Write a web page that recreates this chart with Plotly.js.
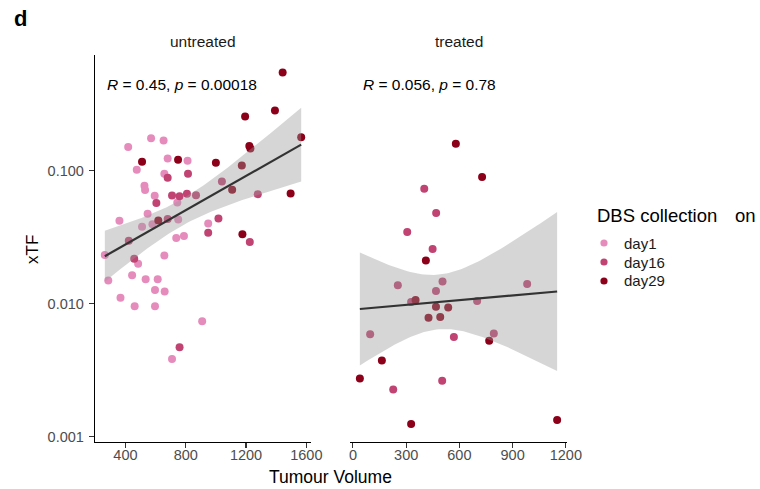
<!DOCTYPE html>
<html><head><meta charset="utf-8">
<script src="https://cdn.plot.ly/plotly-3.0.1.min.js"></script>
<style>body{margin:0;background:#fff}#chart{width:760px;height:489px}</style>
</head><body><div id="chart"></div>
<script>
// ---------- data ----------
const days = ['day1', 'day16', 'day29'];
const dayColors = ['#E68CBD', '#C04372', '#8C0019'];

const untreatedVolume = [1443,1392,1194,1566,1222,1229,570,653,418,510,680,749,812,1000,475,658,680,815,1172,526,530,1040,1108,1496,1278,594,709,759,808,868,605,744,547,618,680,750,360,510,579,949,1017,949,1176,1225,737,788,422,263,658,458,484,286,444,534,614,596,660,367,461,596,909,759,709];
const untreatedXTF = [0.548,0.284,0.256,0.179,0.154,0.147,0.176,0.169,0.151,0.117,0.124,0.121,0.119,0.115,0.102,0.095,0.0886,0.095,0.1096,0.0771,0.0716,0.0831,0.072,0.0675,0.0668,0.0649,0.0652,0.0645,0.0671,0.0656,0.0572,0.0578,0.0475,0.0423,0.0435,0.0431,0.0421,0.0379,0.0397,0.0402,0.0438,0.0343,0.0334,0.0292,0.0312,0.0323,0.0298,0.0233,0.0231,0.0218,0.0200,0.0150,0.0164,0.0153,0.0153,0.0127,0.0124,0.0111,0.0096,0.0096,0.0074,0.00472,0.00385];
const untreatedDay = ['day29','day29','day29','day29','day29','day29','day1','day1','day1','day29','day1','day29','day1','day29','day1','day1','day16','day16','day29','day1','day1','day16','day29','day29','day16','day1','day16','day16','day16','day16','day16','day1','day1','day29','day16','day1','day1','day1','day1','day1','day16','day16','day29','day16','day1','day1','day16','day1','day1','day16','day1','day1','day1','day1','day1','day1','day1','day1','day1','day1','day1','day16','day1'];

const treatedVolume = [580,728,402,469,306,449,411,253,505,468,982,328,353,700,468,537,426,492,97,794,569,768,163,39,503,227,328,1151];
const treatedXTF = [0.1596,0.0897,0.0733,0.0481,0.0347,0.0258,0.0212,0.0138,0.0147,0.0125,0.0141,0.0103,0.0107,0.0105,0.0095,0.0094,0.00785,0.00795,0.00591,0.00598,0.00562,0.00527,0.00375,0.00274,0.00264,0.00227,0.00125,0.00134];
const treatedDay = ['day29','day29','day16','day16','day16','day16','day29','day16','day16','day16','day16','day16','day29','day16','day29','day29','day29','day29','day16','day16','day16','day29','day29','day29','day16','day16','day29','day29'];

const panelNames = ['untreated', 'treated'];
const statLabels = ['<i>R</i> = 0.45, <i>p</i> = 0.00018', '<i>R</i> = 0.056, <i>p</i> = 0.78'];
const yTickVals = [0.001, 0.01, 0.1];
const yTickText = ['0.001', '0.010', '0.100'];
const untreatedXTicks = [400, 800, 1200, 1600];
const treatedXTicks = [0, 300, 600, 900, 1200];

// ---------- helpers ----------
const FONT = '"Liberation Sans", Arial, Helvetica, sans-serif';
function tQuant(df) {
  const z = 1.959964;
  const g1 = (z**3 + z) / 4;
  const g2 = (5*z**5 + 16*z**3 + 3*z) / 96;
  const g3 = (3*z**7 + 19*z**5 + 17*z**3 - 15*z) / 384;
  return z + g1/df + g2/df**2 + g3/df**3;
}
function lmFit(xs, ys) {
  const ly = ys.map(Math.log10);
  const n = xs.length;
  const mx = xs.reduce((a,b)=>a+b,0)/n, my = ly.reduce((a,b)=>a+b,0)/n;
  let sxx=0, sxy=0;
  for (let i=0;i<n;i++){ sxx+=(xs[i]-mx)**2; sxy+=(xs[i]-mx)*(ly[i]-my); }
  const b = sxy/sxx, a = my - b*mx;
  let sse=0; for (let i=0;i<n;i++){ sse+=(ly[i]-a-b*xs[i])**2; }
  const s = Math.sqrt(sse/(n-2)), t = tQuant(n-2);
  const xmin = Math.min(...xs), xmax = Math.max(...xs);
  const gx=[], gy=[], lo=[], hi=[];
  const N = 80;
  for (let k=0;k<=N;k++){
    const x = xmin + (xmax-xmin)*k/N;
    const f = a + b*x;
    const se = s*Math.sqrt(1/n + (x-mx)**2/sxx);
    gx.push(x); gy.push(10**f); lo.push(10**(f - t*se)); hi.push(10**(f + t*se));
  }
  return {gx, gy, lo, hi};
}
function expandRange(v) {
  const mn = Math.min(...v), mx = Math.max(...v), d = (mx-mn)*0.05;
  return [mn-d, mx+d];
}

// ---------- traces ----------
const panels = [
  {vol: untreatedVolume, xtf: untreatedXTF, day: untreatedDay, xa: 'x'},
  {vol: treatedVolume, xtf: treatedXTF, day: treatedDay, xa: 'x2'}
];
const traces = [];
panels.forEach(p => {
  days.forEach((d, di) => {
    const xs=[], ys=[];
    p.day.forEach((dd,i)=>{ if (dd===d){ xs.push(p.vol[i]); ys.push(p.xtf[i]); } });
    traces.push({
      type:'scatter', mode:'markers', x: xs, y: ys, xaxis: p.xa, yaxis: 'y',
      name: d, showlegend: false,
      marker: {color: dayColors[di], size: 8, line: {width: 0}},
      hoverinfo: 'x+y'
    });
  });
});
panels.forEach(p => {
  const f = lmFit(p.vol, p.xtf);
  traces.push({
    type:'scatter', mode:'lines', xaxis: p.xa, yaxis:'y', showlegend:false,
    x: f.gx.concat(f.gx.slice().reverse()), y: f.hi.concat(f.lo.slice().reverse()),
    fill:'toself', fillcolor:'rgba(153,153,153,0.4)', line:{width:0}, hoverinfo:'skip'
  });
  traces.push({
    type:'scatter', mode:'lines', xaxis: p.xa, yaxis:'y', showlegend:false,
    x: f.gx, y: f.gy, line:{color:'#333333', width:2.2}, hoverinfo:'skip'
  });
});

// ---------- layout ----------
const W = 760, H = 489;
const allY = untreatedXTF.concat(treatedXTF).map(Math.log10);
const yr = expandRange(allY);
const axisCommon = {
  showline: true, linecolor: '#000', linewidth: 1.2, ticks: 'outside', ticklen: 5,
  tickcolor: '#333', tickwidth: 1.1, showgrid: false, zeroline: false,
  tickfont: {family: FONT, size: 14.5, color: '#4D4D4D'}, fixedrange: true
};

// legend drawn as shapes + annotations
const legendShapes = [], legendAnn = [];
days.forEach((d, i) => {
  const cy = 243 + i*19, cx = 604, r = 3.6;
  legendShapes.push({type:'circle', xref:'paper', yref:'paper',
    x0:(cx-r)/W, x1:(cx+r)/W, y0:(H-cy-r)/H, y1:(H-cy+r)/H,
    fillcolor: dayColors[i], line:{width:0}});
  legendAnn.push({text: d, x: 622/W, y: (H-cy)/H, xref:'paper', yref:'paper', xanchor:'left', yanchor:'middle',
    showarrow:false, font:{family: FONT, size: 15, color:'#1A1A1A'}});
});

const layout = {
  width: W, height: H, margin: {l:0, r:0, t:0, b:0},
  paper_bgcolor: '#fff', plot_bgcolor: 'rgba(0,0,0,0)',
  showlegend: false,
  xaxis: Object.assign({}, axisCommon, {
    domain: [95/W, 311/W], range: expandRange(untreatedVolume), anchor: 'y',
    tickvals: untreatedXTicks, ticktext: untreatedXTicks.map(String), ticklabelstandoff: -5
  }),
  xaxis2: Object.assign({}, axisCommon, {
    domain: [350/W, 567/W], range: expandRange(treatedVolume), anchor: 'y',
    tickvals: treatedXTicks, ticktext: treatedXTicks.map(String), ticklabelstandoff: -5
  }),
  yaxis: Object.assign({}, axisCommon, {
    type: 'log', domain: [(H-441.5)/H, (H-55)/H], range: yr, anchor: 'x',
    tickvals: yTickVals, ticktext: yTickText, ticklabelstandoff: 2
  }),
  shapes: legendShapes,
  annotations: [
    {text: '<b>d</b>', x: 12/W, y: (H-19)/H, xref:'paper', yref:'paper', xanchor:'left', yanchor:'middle', showarrow:false, font:{family: FONT, size: 22, color:'#000'}},
    {text: panelNames[0], x: 0.5, y: (H-42)/H, xref:'x domain', yref:'paper', xanchor:'center', yanchor:'middle', showarrow:false, font:{family: FONT, size: 15.5, color:'#1A1A1A'}},
    {text: panelNames[1], x: 0.5, y: (H-42)/H, xref:'x2 domain', yref:'paper', xanchor:'center', yanchor:'middle', showarrow:false, font:{family: FONT, size: 15.5, color:'#1A1A1A'}},
    {text: statLabels[0], x: 105/W, y: (H-85)/H, xref:'paper', yref:'paper', xanchor:'left', yanchor:'middle', showarrow:false, font:{family: FONT, size: 15.5, color:'#000'}},
    {text: statLabels[1], x: 360.5/W, y: (H-85)/H, xref:'paper', yref:'paper', xanchor:'left', yanchor:'middle', showarrow:false, font:{family: FONT, size: 15.5, color:'#000'}},
    {text: 'xTF', x: 32/W, y: (H-250)/H, xref:'paper', yref:'paper', xanchor:'center', yanchor:'middle', textangle:-90, showarrow:false, font:{family: FONT, size: 17, color:'#000'}},
    {text: 'Tumour Volume', x: 330/W, y: (H-477)/H, xref:'paper', yref:'paper', xanchor:'center', yanchor:'middle', showarrow:false, font:{family: FONT, size: 17.5, color:'#000'}},
    {text: 'DBS collection', x: 595/W, y: (H-215)/H, xref:'paper', yref:'paper', xanchor:'left', yanchor:'middle', showarrow:false, font:{family: FONT, size: 18.5, color:'#000'}},
    {text: 'on', x: 733/W, y: (H-215)/H, xref:'paper', yref:'paper', xanchor:'left', yanchor:'middle', showarrow:false, font:{family: FONT, size: 18.5, color:'#000'}}
  ].concat(legendAnn)
};
Plotly.newPlot('chart', traces, layout, {displayModeBar: false, staticPlot: true});
</script>
</body></html>
